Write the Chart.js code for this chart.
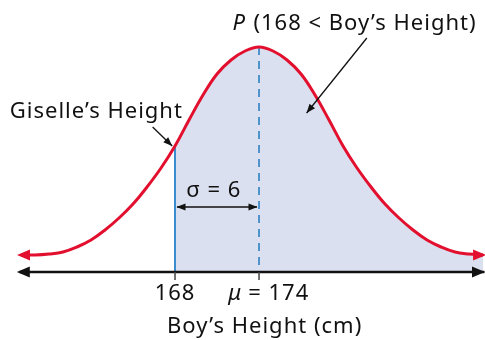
<!DOCTYPE html>
<html>
<head>
<meta charset="utf-8">
<script src="https://cdn.jsdelivr.net/npm/chart.js@4"></script>
<style>
  html, body { margin: 0; padding: 0; background: #fff; }
</style>
</head>
<body>
<canvas id="normalChart" width="485" height="340"></canvas>
<script>
// boy's height (cm) and the height of the bell curve above the axis
const heights = [157, 158, 159, 160, 161, 162, 163, 164, 165, 166, 167, 168, 169, 170, 171, 172, 173,
                 174, 175, 176, 177, 178, 179, 180, 181, 182, 183, 184, 185, 186, 187, 188, 189, 190];
const curveValues = [17, 17, 18, 20, 25, 32, 42, 54, 68, 85, 104, 126, 152, 177, 198, 212, 221,
                     225, 221, 212, 198, 177, 152, 126, 104, 85, 68, 54, 42, 32, 25, 20, 18, 17];
const mean = 174;
const sd = 6;
const giselle = 168;
const tickLabels = ['168', '= 174'];

const red = '#e2102e';
const blue = '#3a8dcf';
const shade = '#dbe0f0';
const font = '"Noto Sans", sans-serif';

const curvePoints = heights.map((h, i) => ({ x: h, y: curveValues[i] }));
const shadePoints = curvePoints.filter(p => p.x >= giselle);

function arrowHead(ctx, x1, y1, x2, y2, len, half) {
  const a = Math.atan2(y2 - y1, x2 - x1);
  ctx.beginPath();
  ctx.moveTo(x2, y2);
  ctx.lineTo(x2 - len * Math.cos(a) + half * Math.sin(a), y2 - len * Math.sin(a) - half * Math.cos(a));
  ctx.lineTo(x2 - len * Math.cos(a) - half * Math.sin(a), y2 - len * Math.sin(a) + half * Math.cos(a));
  ctx.closePath();
  ctx.fill();
}

function arrow(ctx, x1, y1, x2, y2) {
  ctx.beginPath();
  ctx.moveTo(x1, y1);
  ctx.lineTo(x2, y2);
  ctx.stroke();
  arrowHead(ctx, x1, y1, x2, y2, 9, 3.5);
}

const overlay = {
  id: 'overlay',
  afterDatasetDraw(chart, args) {
    if (args.index !== 1) return;
    const { ctx, scales: { x, y } } = chart;
    const top = curveValues[heights.indexOf(giselle)];
    ctx.save();
    // Giselle's height
    ctx.strokeStyle = blue;
    ctx.lineWidth = 2;
    ctx.beginPath();
    ctx.moveTo(x.getPixelForValue(giselle), y.getPixelForValue(top));
    ctx.lineTo(x.getPixelForValue(giselle), y.getPixelForValue(0));
    ctx.stroke();
    // mean
    ctx.setLineDash([8, 6]);
    ctx.lineWidth = 1.6;
    ctx.strokeStyle = '#2f80c4';
    ctx.beginPath();
    ctx.moveTo(x.getPixelForValue(mean), y.getPixelForValue(225));
    ctx.lineTo(x.getPixelForValue(mean), y.getPixelForValue(0));
    ctx.stroke();
    ctx.restore();
  },
  afterDatasetsDraw(chart) {
    const { ctx, scales: { x, y } } = chart;
    const px = v => x.getPixelForValue(v);
    const py = v => y.getPixelForValue(v);
    ctx.save();

    // red arrow tips on the curve
    ctx.fillStyle = red;
    const first = curvePoints[0], last = curvePoints[curvePoints.length - 1];
    arrowHead(ctx, px(first.x), py(first.y), px(first.x) - 4, py(first.y), 13, 5.5);
    arrowHead(ctx, px(last.x), py(last.y), px(last.x) + 3, py(last.y), 13, 5.5);

    // axis with arrows
    ctx.strokeStyle = '#111';
    ctx.fillStyle = '#111';
    ctx.lineWidth = 2.5;
    ctx.beginPath();
    ctx.moveTo(px(156.9), py(0));
    ctx.lineTo(px(190.1), py(0));
    ctx.stroke();
    arrowHead(ctx, px(160), py(0), px(156.7), py(0), 13, 5.5);
    arrowHead(ctx, px(186), py(0), px(190.14), py(0), 13, 5.5);

    // ticks
    ctx.strokeStyle = '#444';
    ctx.lineWidth = 1.5;
    [giselle, mean].forEach(v => {
      ctx.beginPath();
      ctx.moveTo(px(v), py(0));
      ctx.lineTo(px(v), py(-8));
      ctx.stroke();
    });

    const txt = '22px ' + font;
    const itxt = 'italic 22px ' + font;
    ctx.letterSpacing = '1px';

    // tick labels
    ctx.fillStyle = '#111';
    ctx.font = txt;
    ctx.textBaseline = 'alphabetic';
    ctx.textAlign = 'center';
    ctx.fillText(tickLabels[0], px(giselle), py(-28));
    ctx.textAlign = 'left';
    ctx.font = itxt;
    ctx.fillText('\u03bc', px(171.8), py(-28));
    ctx.font = txt;
    ctx.fillText(tickLabels[1], px(171.8) + 20, py(-28));

    // axis title
    ctx.textAlign = 'center';
    ctx.fillText('Boy\u2019s Height (cm)', px(174.4), py(-61));

    // annotations
    ctx.textAlign = 'left';
    ctx.fillText('Giselle\u2019s Height', px(156.2), py(154));
    ctx.font = itxt;
    ctx.fillText('P', px(172.1), py(242));
    ctx.font = txt;
    ctx.fillText('(168 < Boy\u2019s Height)', px(172.1) + 21, py(242));
    ctx.fillText('\u03c3 = ' + sd, px(168.8), py(75));

    ctx.strokeStyle = '#111';
    ctx.lineWidth = 1.3;
    arrow(ctx, px(166.4), py(145), px(167.8), py(126));
    arrow(ctx, px(181.7), py(234), px(177.4), py(159));
    // sigma span
    const sy = py(65);
    ctx.beginPath();
    ctx.moveTo(px(giselle) + 2, sy);
    ctx.lineTo(px(mean) - 2, sy);
    ctx.stroke();
    arrowHead(ctx, px(170), sy, px(giselle) + 1.5, sy, 9, 3.5);
    arrowHead(ctx, px(172), sy, px(mean) - 1.5, sy, 9, 3.5);

    ctx.restore();
  }
};

new Chart(document.getElementById('normalChart'), {
  type: 'line',
  data: {
    datasets: [{
      data: curvePoints,
      borderColor: red,
      borderWidth: 3,
      pointRadius: 0,
      tension: 0.4,
      fill: false
    }, {
      data: shadePoints,
      borderWidth: 0,
      borderColor: 'rgba(0,0,0,0)',
      backgroundColor: shade,
      pointRadius: 0,
      tension: 0.4,
      fill: 'origin'
    }]
  },
  options: {
    responsive: false,
    animation: false,
    devicePixelRatio: 1,
    layout: { padding: { left: 0, right: 0, top: 0, bottom: 68 } },
    plugins: { legend: { display: false }, tooltip: { enabled: false } },
    scales: {
      x: { type: 'linear', min: 155.5, max: 190.14, display: false },
      y: { min: 0, max: 272, display: false }
    }
  },
  plugins: [overlay]
});
</script>
</body>
</html>
